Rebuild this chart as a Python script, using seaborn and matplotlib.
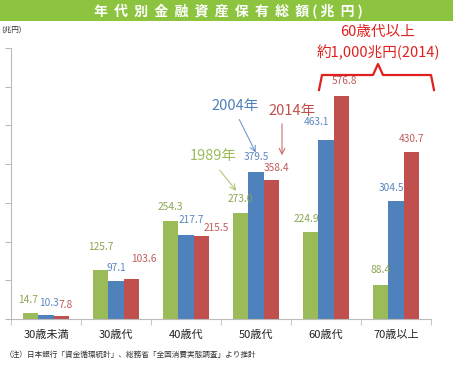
import pandas as pd
import seaborn as sns
import matplotlib.pyplot as plt
from matplotlib.patches import Rectangle
from matplotlib.lines import Line2D

# data (兆円)
age_groups = ['30歳未満', '30歳代', '40歳代', '50歳代', '60歳代', '70歳以上']
years = ['1989年', '2004年', '2014年']
v1989 = [14.7, 125.7, 254.3, 273.0, 224.9, 88.4]
v2004 = [10.3, 97.1, 217.7, 379.5, 463.1, 304.5]
v2014 = [7.8, 103.6, 215.5, 358.4, 576.8, 430.7]

bar_colors = ['#9BBB59', '#4F81BD', '#C0504D']
label_colors = ['#8aa650', '#5b86c0', '#c05a5a']

# label nudges (points) to mimic the hand-placed labels of the original
nudge = {
    '1989年': [(-2, 6), (0, 13), (0, 6), (0, 7), (-3, 6), (0, 7)],
    '2004年': [(2, 5), (0, 6), (4, 7), (0, 7), (-7, 9), (-3, 6)],
    '2014年': [(3, 4), (9, 11), (11, 2), (4, 5), (2, 7), (0, 6)],
}

df = pd.DataFrame({
    'age': age_groups * 3,
    'year': [y for y in years for _ in age_groups],
    'value': v1989 + v2004 + v2014,
})

plt.rcParams['font.family'] = ['Noto Sans CJK JP', 'DejaVu Sans']

W, H = 472, 369
fig = plt.figure(figsize=(W / 100, H / 100), dpi=100)
ax = fig.add_axes([11 / W, 50 / H, 420 / W, 271 / H])

sns.barplot(data=df, x='age', y='value', hue='year', palette=bar_colors,
            width=0.66, saturation=1, ax=ax, legend=False)

for bars, year, col in zip(ax.containers, years, label_colors):
    for bar, (dx, dy) in zip(bars, nudge[year]):
        h = bar.get_height()
        ax.annotate(f'{h:.1f}', (bar.get_x() + bar.get_width() / 2, h),
                    xytext=(dx, dy), textcoords='offset points',
                    ha='center', va='bottom', fontsize=7.3, color=col)

ax.set_xlim(-0.5, 5.5)
ax.set_ylim(0, 700)
ax.set_yticks(range(0, 701, 100))
ax.set_yticklabels([])
ax.set_xticks([i - 0.5 for i in range(7)], minor=True)
ax.tick_params(axis='x', which='major', length=0, labelsize=8, pad=8, colors='#222222')
ax.tick_params(axis='x', which='minor', length=4, color='#bbbbbb')
ax.tick_params(axis='y', length=4, color='#bbbbbb')
ax.set_xlabel('')
ax.set_ylabel('')
for s in ['top', 'right']:
    ax.spines[s].set_visible(False)
for s in ['left', 'bottom']:
    ax.spines[s].set_color('#bbbbbb')


def fx(px):
    return px / W


def fy(py):
    return 1 - py / H


# title banner
fig.patches.append(Rectangle((0, fy(21)), fx(453), 21 / H, transform=fig.transFigure,
                             facecolor='#8cc43f', edgecolor='none'))
fig.text(fx(228), fy(11), '年  代  別  金  融  資  産  保  有  総  額 ( 兆  円 )', ha='center',
         va='center', color='white', fontsize=10, fontweight='bold')
fig.text(fx(1), fy(30), '(兆円)', ha='left', va='center', fontsize=5.5, color='#333333')

# year callouts
callouts = [
    ('1989年', bar_colors[0], (213, 156), (218, 168), (238, 193)),
    ('2004年', bar_colors[1], (235, 106), (238, 117), (257, 155)),
    ('2014年', bar_colors[2], (292, 111), (282, 121), (282, 158)),
]
for txt, col, tpos, a0, a1 in callouts:
    fig.text(fx(tpos[0]), fy(tpos[1]), txt, ha='center', va='center', fontsize=10.5, color=col)
    ax.annotate('', xy=(fx(a1[0]), fy(a1[1])), xycoords='figure fraction',
                xytext=(fx(a0[0]), fy(a0[1])), textcoords='figure fraction',
                arrowprops=dict(arrowstyle='->', color=col, lw=0.8, alpha=0.8))

# 60歳代以上 bracket
red = '#e0201e'
fig.text(fx(378), fy(32), '60歳代以上', ha='center', va='center', fontsize=10.5, color=red)
fig.text(fx(378), fy(52), '約1,000兆円(2014)', ha='center', va='center', fontsize=10.5, color=red)
bx = [319, 322, 373, 378, 383, 431, 434]
by = [90, 75, 75, 64, 75, 75, 90]
fig.add_artist(Line2D([fx(x) for x in bx], [fy(y) for y in by], color=red, lw=1.6,
                      transform=fig.transFigure))

fig.text(fx(5), fy(355), '（注）日本銀行「資金循環統計」、総務省「全国消費実態調査」より推計',
         ha='left', va='center', fontsize=5.5, color='#333333')

fig.savefig('out.png', dpi=100)
